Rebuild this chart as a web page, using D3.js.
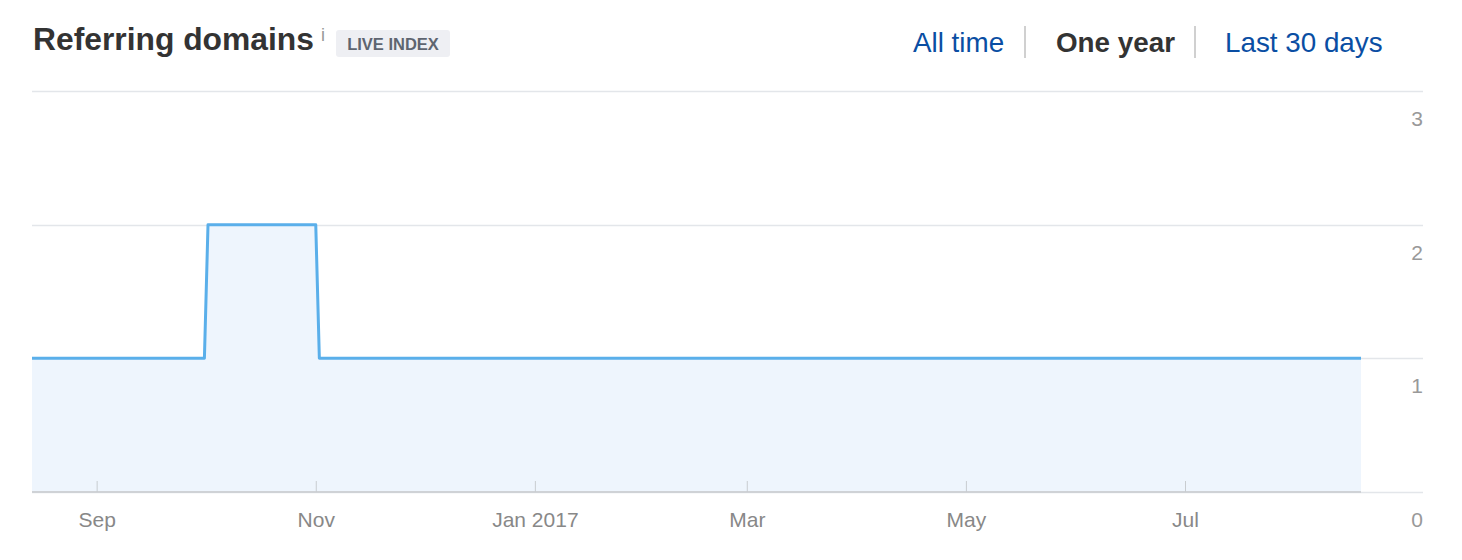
<!DOCTYPE html>
<html>
<head>
<meta charset="utf-8">
<script src="https://cdn.jsdelivr.net/npm/d3@7"></script>
<style>
  html, body { margin: 0; padding: 0; background: #fff; }
  svg { display: block; font-family: "Liberation Sans", Arial, Helvetica, sans-serif; }
</style>
</head>
<body>
<svg id="chart" width="1462" height="560"></svg>
<script>
// ---- data ----
const dates = ["2016-08-14", "2016-10-01", "2016-10-02", "2016-11-01", "2016-11-02", "2017-08-19"];
const values = [1, 1, 2, 2, 1, 1];
const xTickDates = ["2016-09-01", "2016-11-01", "2017-01-01", "2017-03-01", "2017-05-01", "2017-07-01"];
const xTickLabels = ["Sep", "Nov", "Jan 2017", "Mar", "May", "Jul"];
const yTicks = [0, 1, 2, 3];
const rangeButtons = ["All time", "One year", "Last 30 days"];
const activeButton = "One year";

const parse = d3.timeParse("%Y-%m-%d");
const data = dates.map((d, i) => ({ date: parse(d), value: values[i] }));

const svg = d3.select("#chart");
const plotLeft = 32, plotRight = 1361, gridRight = 1423, plotTop = 91, plotBottom = 492;

const x = d3.scaleTime().domain(d3.extent(data, d => d.date)).range([plotLeft, plotRight]);
const y = d3.scaleLinear().domain([0, 3]).range([plotBottom, plotTop]);

// ---- header ----
svg.append("text").attr("x", 33).attr("y", 50)
  .attr("font-size", 31.8).attr("font-weight", "bold").attr("fill", "#333")
  .text("Referring domains");
svg.append("text").attr("x", 321).attr("y", 41)
  .attr("font-size", 18).attr("fill", "#999").text("i");
svg.append("rect").attr("x", 336).attr("y", 30).attr("width", 114).attr("height", 27)
  .attr("rx", 3).attr("fill", "#eeeff3");
svg.append("text").attr("x", 393).attr("y", 50).attr("text-anchor", "middle")
  .attr("font-size", 16.5).attr("font-weight", "bold").attr("fill", "#5e6570")
  .text("LIVE INDEX");

const btnX = [913, 1056, 1225];
rangeButtons.forEach((b, i) => {
  svg.append("text").attr("x", btnX[i]).attr("y", 52)
    .attr("font-size", 27.8).attr("font-weight", b === activeButton ? "bold" : "normal")
    .attr("fill", b === activeButton ? "#333" : "#0a4ea3")
    .text(b);
});
[1025, 1195].forEach(sx => {
  svg.append("line").attr("x1", sx).attr("x2", sx).attr("y1", 26).attr("y2", 58)
    .attr("stroke", "#d0d0d0").attr("stroke-width", 2);
});

// ---- grid ----
svg.append("g").selectAll("line").data(yTicks).join("line")
  .attr("x1", plotLeft).attr("x2", gridRight)
  .attr("y1", d => Math.round(y(d)) + 0.5).attr("y2", d => Math.round(y(d)) + 0.5)
  .attr("stroke", "#e3e6ea").attr("stroke-width", 1.5);

// ---- area & line ----
svg.append("path").datum(data)
  .attr("fill", "#eef5fd")
  .attr("d", d3.area().x(d => x(d.date)).y0(y(0)).y1(d => y(d.value)));

// x axis
const xAxis = d3.axisBottom(x)
  .tickValues(xTickDates.map(parse))
  .tickFormat((d, i) => xTickLabels[i])
  .tickSize(-11).tickPadding(20);
const gx = svg.append("g").attr("transform", `translate(0,${plotBottom})`).call(xAxis);
gx.select(".domain").attr("stroke", "#cfd2d6").attr("stroke-width", 2)
  .attr("d", `M${plotLeft},0H${plotRight}`);
gx.selectAll(".tick line").attr("stroke", "#c8ccd0").attr("stroke-width", 1);
gx.selectAll(".tick text").attr("font-size", 21).attr("fill", "#888")
  .attr("font-family", "'Liberation Sans', Arial, sans-serif");

svg.append("path").datum(data)
  .attr("fill", "none").attr("stroke", "#5aafea").attr("stroke-width", 3)
  .attr("stroke-linejoin", "round")
  .attr("d", d3.line().x(d => x(d.date)).y(d => y(d.value)));

// y labels
svg.append("g").selectAll("text").data(yTicks).join("text")
  .attr("x", gridRight).attr("y", d => y(d) + 35)
  .attr("text-anchor", "end").attr("font-size", 21).attr("fill", "#999")
  .text(d => d);
</script>
</body>
</html>
